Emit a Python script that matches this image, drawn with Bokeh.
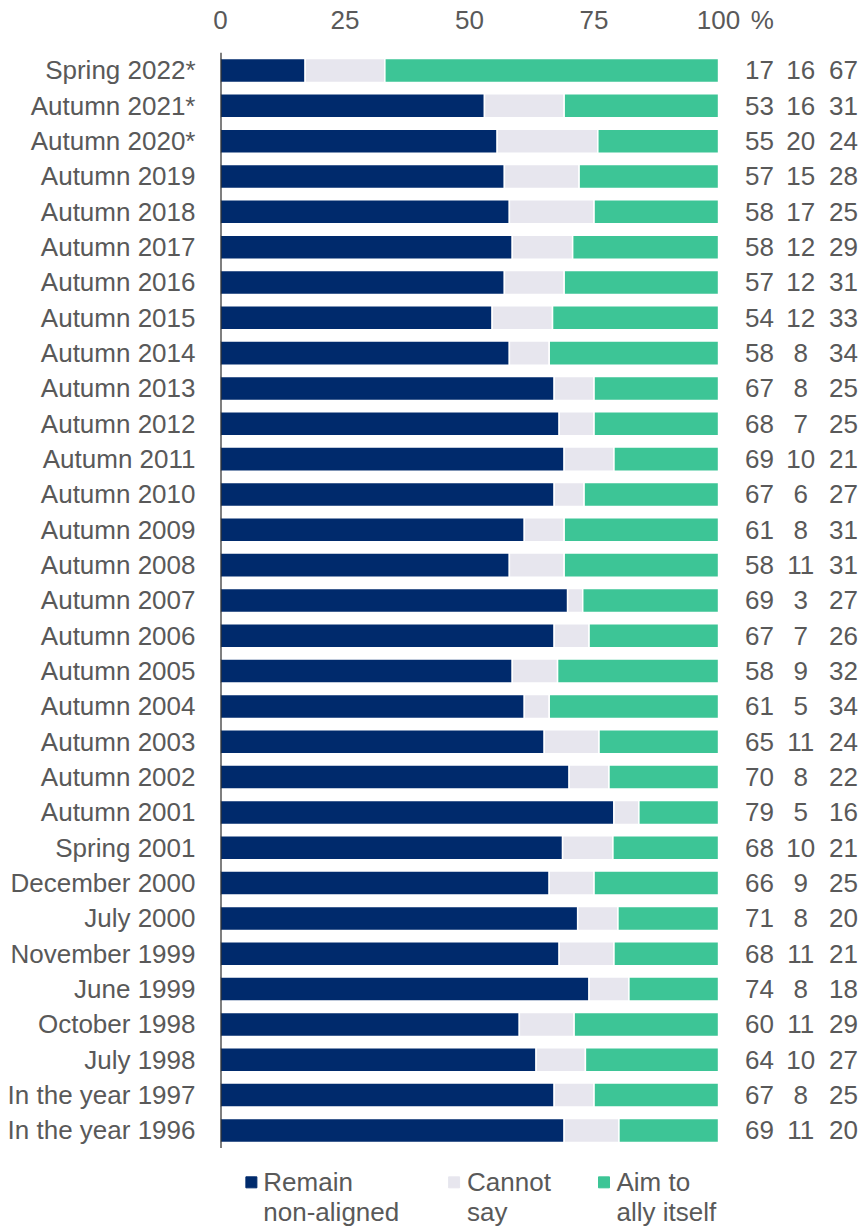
from bokeh.plotting import figure
from bokeh.models import ColumnDataSource, Range1d, FixedTicker, LinearAxis
from bokeh.embed import file_html
from bokeh.resources import INLINE
from bokeh.core.properties import value

categories = [
    "Spring 2022*", "Autumn 2021*", "Autumn 2020*", "Autumn 2019", "Autumn 2018",
    "Autumn 2017", "Autumn 2016", "Autumn 2015", "Autumn 2014", "Autumn 2013",
    "Autumn 2012", "Autumn 2011", "Autumn 2010", "Autumn 2009", "Autumn 2008",
    "Autumn 2007", "Autumn 2006", "Autumn 2005", "Autumn 2004", "Autumn 2003",
    "Autumn 2002", "Autumn 2001", "Spring 2001", "December 2000", "July 2000",
    "November 1999", "June 1999", "October 1998", "July 1998",
    "In the year 1997", "In the year 1996",
]
remain = [17, 53, 55, 57, 58, 58, 57, 54, 58, 67, 68, 69, 67, 61, 58, 69, 67, 58,
          61, 65, 70, 79, 68, 66, 71, 68, 74, 60, 64, 67, 69]
cannot = [16, 16, 20, 15, 17, 12, 12, 12, 8, 8, 7, 10, 6, 8, 11, 3, 7, 9,
          5, 11, 8, 5, 10, 9, 8, 11, 8, 11, 10, 8, 11]
ally = [67, 31, 24, 28, 25, 29, 31, 33, 34, 25, 25, 21, 27, 31, 31, 27, 26, 32,
        34, 24, 22, 16, 21, 25, 20, 21, 18, 29, 27, 25, 20]
series_names = [["Remain", "non-aligned"], ["Cannot", "say"], ["Aim to", "ally itself"]]
x_ticks = [0, 25, 50, 75, 100]

colors = ["#002A6C", "#E7E6EE", "#3DC596"]
FONT = "Liberation Sans"
TXT = "#595959"
FS = "26px"

n = len(categories)
ys = list(range(n))
tot = [a + b + c for a, b, c in zip(remain, cannot, ally)]
r_end = [a / t * 100 for a, t in zip(remain, tot)]
c_end = [(a + b) / t * 100 for a, b, t in zip(remain, cannot, tot)]

src = ColumnDataSource(dict(
    y=ys, zero=[0] * n, r_end=r_end, c_end=c_end, full=[100] * n,
    r_lab=[str(v) for v in remain], c_lab=[str(v) for v in cannot],
    a_lab=[str(v) for v in ally],
    col1=[108.2] * n, col2=[116.5] * n, col3=[125.1] * n,
))

p = figure(width=860, height=1226, output_backend="svg", toolbar_location=None,
           x_range=Range1d(0, 128.5), y_range=Range1d(32.72, -0.679),
           x_axis_location=None, y_axis_location=None,
           min_border_left=220, min_border_right=0, min_border_top=46,
           min_border_bottom=0)
p.outline_line_color = None
p.xgrid.visible = False
p.ygrid.visible = False
p.background_fill_color = "white"

bh = 0.68
p.hbar(y="y", left="zero", right="r_end", height=bh, source=src,
       fill_color=colors[0], line_color="white", line_width=1.5)
p.hbar(y="y", left="r_end", right="c_end", height=bh, source=src,
       fill_color=colors[1], line_color="white", line_width=1.5)
p.hbar(y="y", left="c_end", right="full", height=bh, source=src,
       fill_color=colors[2], line_color="white", line_width=1.5)

# left axis line
p.segment(x0=[0], y0=[-0.5], x1=[0], y1=[n - 0.5], line_color="black", line_width=2)

# value columns
for col, lab in (("col1", "r_lab"), ("col2", "c_lab"), ("col3", "a_lab")):
    p.text(x=col, y="y", text=lab, source=src, text_align="center",
           text_baseline="middle", text_font=value(FONT), text_font_size=FS,
           text_color=TXT)

# top axis
xa = LinearAxis(ticker=FixedTicker(ticks=x_ticks + [108.8]))
xa.major_label_overrides = {108.8: "%"}
xa.axis_line_color = None
xa.major_tick_line_color = None
xa.minor_tick_line_color = None
xa.major_tick_out = 0
xa.major_tick_in = 0
xa.major_label_standoff = 12
xa.major_label_text_font = FONT
xa.major_label_text_font_size = FS
xa.major_label_text_color = TXT
p.add_layout(xa, "above")

# left category axis
ya = LinearAxis(ticker=FixedTicker(ticks=ys))
ya.major_label_overrides = {i: c for i, c in enumerate(categories)}
ya.axis_line_color = None
ya.major_tick_line_color = None
ya.minor_tick_line_color = None
ya.major_tick_out = 0
ya.major_tick_in = 0
ya.major_label_standoff = 25
ya.major_label_text_font = FONT
ya.major_label_text_font_size = FS
ya.major_label_text_color = TXT
p.add_layout(ya, "left")

# legend (drawn inside the frame below the bars)
leg_mx = [6.2, 46.9, 77.0]
leg_tx = [8.6, 49.5, 79.5]
p.scatter(x=leg_mx, y=[31.47] * 3, marker="square", size=11,
          fill_color=colors, line_color=colors)
p.text(x=leg_tx, y=[31.47] * 3, text=[s[0] for s in series_names],
       text_align="left", text_baseline="middle", text_font=value(FONT),
       text_font_size=FS, text_color=TXT)
p.text(x=leg_tx, y=[32.30] * 3, text=[s[1] for s in series_names],
       text_align="left", text_baseline="middle", text_font=value(FONT),
       text_font_size=FS, text_color=TXT)

open("out.html", "w").write(file_html(p, INLINE))
